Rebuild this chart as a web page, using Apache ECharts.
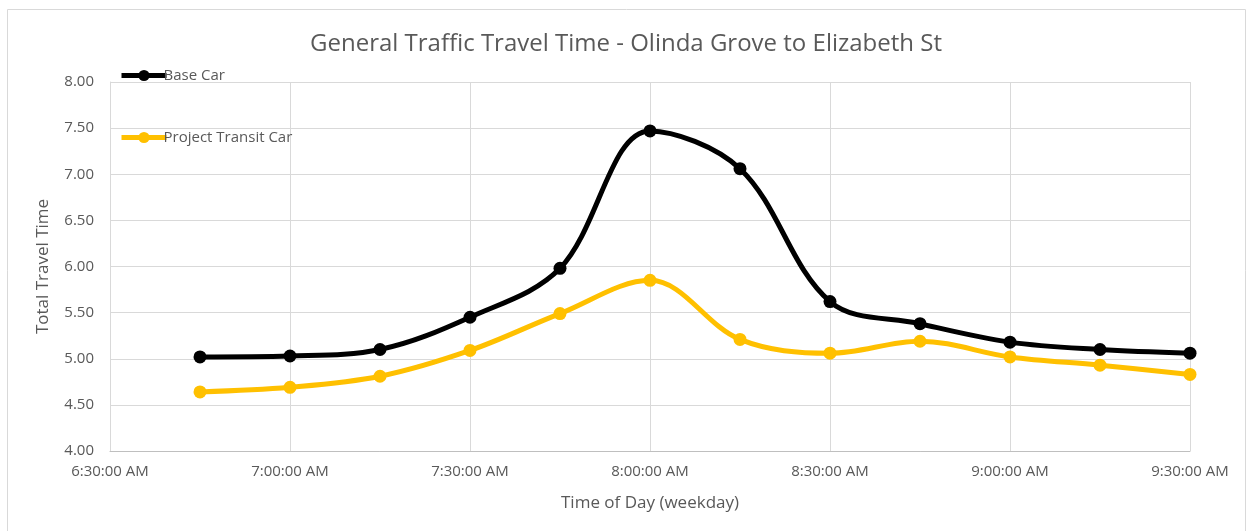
<!DOCTYPE html>
<html><head><meta charset="utf-8">
<script src="https://cdn.jsdelivr.net/npm/echarts@6/dist/echarts.min.js"></script>
<style>html,body{margin:0;padding:0;background:#fff}#c{width:1252px;height:531px}</style>
</head><body><div id="c"></div>
<script>
const times = ["6:45","7:00","7:15","7:30","7:45","8:00","8:15","8:30","8:45","9:00","9:15","9:30"];
const baseCar = [5.02,5.03,5.10,5.45,5.98,7.47,7.06,5.62,5.38,5.18,5.10,5.06];
const projectCar = [4.64,4.69,4.81,5.09,5.49,5.85,5.21,5.06,5.19,5.02,4.93,4.83];
const xTicks = ["6:30:00 AM","7:00:00 AM","7:30:00 AM","8:00:00 AM","8:30:00 AM","9:00:00 AM","9:30:00 AM"];

function toMin(t){const p=t.split(":");return (+p[0])*60+(+p[1]);}
function fmt(m){const h=Math.floor(m/60),mm=m%60;return h+":"+(mm<10?"0":"")+mm+":00 AM";}
const chart = echarts.init(document.getElementById('c'));
const font = '"Open Sans", "Liberation Sans", sans-serif';
chart.setOption({
  animation:false,
  textStyle:{fontFamily:font},
  graphic:[{type:'rect',shape:{x:7.5,y:9.5,width:1238,height:530},style:{fill:'none',stroke:'#d9d9d9',lineWidth:1},silent:true}],
  title:{text:'General Traffic Travel Time - Olinda Grove to Elizabeth St',left:'center',top:27,
    textStyle:{fontSize:24,fontWeight:'normal',color:'#595959',fontFamily:font}},
  legend:{orient:'vertical',left:114,top:63,itemGap:47,itemWidth:45,itemHeight:14,
    lineStyle:{width:5},
    textStyle:{fontSize:15,color:'#595959',padding:[0,0,0,-8]},
    data:['Base Car','Project Transit Car']},
  grid:{left:110,right:62,top:82,bottom:80},
  xAxis:{type:'value',min:toMin("6:30"),max:toMin("9:30"),interval:30,
    name:'Time of Day (weekday)',nameLocation:'middle',nameGap:44,
    nameTextStyle:{fontSize:17,color:'#595959'},
    axisLine:{lineStyle:{color:'#bfbfbf'}},axisTick:{show:false},
    axisLabel:{color:'#595959',fontSize:15,margin:13,formatter:v=>xTicks[(v-390)/30]||fmt(v)},
    splitLine:{show:true,lineStyle:{color:'#d9d9d9'}}},
  yAxis:{type:'value',min:4,max:8,interval:0.5,
    name:'Total Travel Time',nameLocation:'middle',nameGap:58,
    nameTextStyle:{fontSize:17,color:'#595959'},
    axisLine:{show:true,lineStyle:{color:'#d9d9d9'}},axisTick:{show:false},
    axisLabel:{color:'#595959',fontSize:15,margin:16,formatter:v=>v.toFixed(2)},
    splitLine:{lineStyle:{color:'#d9d9d9'}}},
  series:[
    {name:'Base Car',type:'line',smooth:0.35,symbol:'circle',symbolSize:13,
     lineStyle:{width:5,color:'#000000'},itemStyle:{color:'#000000'},
     data:times.map((t,i)=>[toMin(t),baseCar[i]])},
    {name:'Project Transit Car',type:'line',smooth:0.35,symbol:'circle',symbolSize:13,
     lineStyle:{width:5,color:'#FFC000'},itemStyle:{color:'#FFC000'},
     data:times.map((t,i)=>[toMin(t),projectCar[i]])}
  ]
});
</script></body></html>
